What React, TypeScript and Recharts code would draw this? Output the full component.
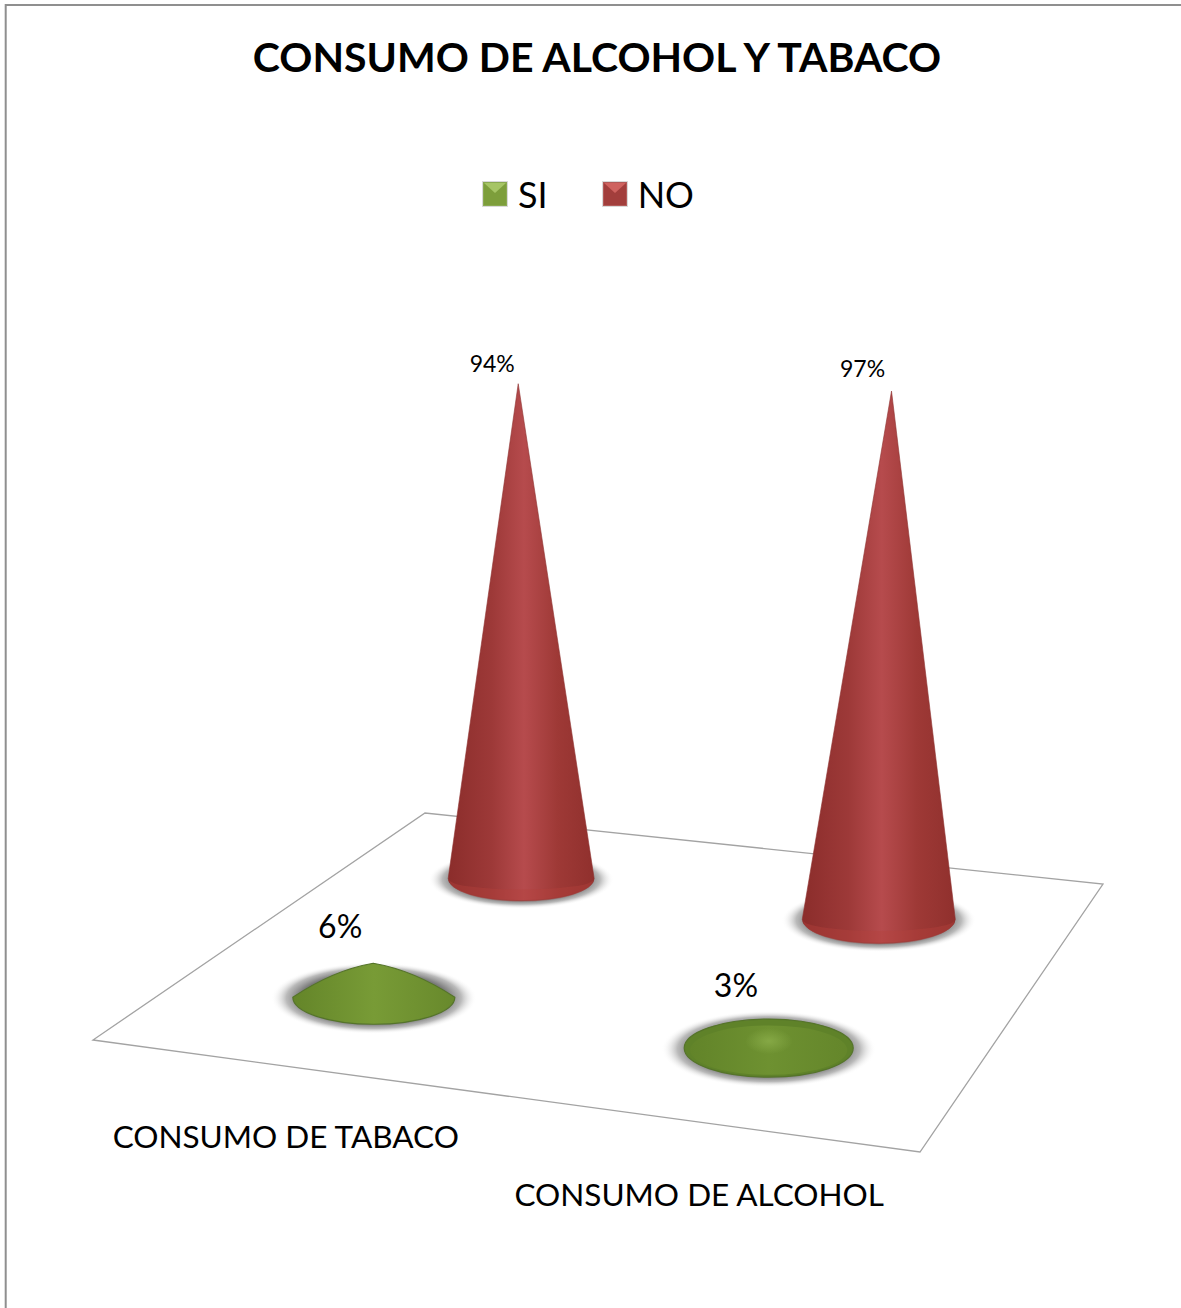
import { Bar, BarChart, LabelList, Legend, XAxis, YAxis } from "recharts";

const categorias = ["CONSUMO DE TABACO", "CONSUMO DE ALCOHOL"];
const valoresSi = [6, 3];
const valoresNo = [94, 97];
const nomesSeries = ["SI", "NO"];

const tabela = categorias.map((categoria, i) => ({
  categoria,
  si: valoresSi[i],
  no: valoresNo[i],
}));

const LARGURA = 1181;
const ALTURA = 1308;
const FONTE = "Lato, Carlito, 'Open Sans', sans-serif";
const margem = { top: 400, right: 78, bottom: 333, left: 93 };
const larguraPlot = LARGURA - margem.left - margem.right;
const LARGURA_BARRA = 162;

// cantos do piso: frente esq., frente dir., fundo dir., fundo esq.
const A = [93, 1040];
const D = [920, 1152];
const C = [1103, 884];
const B = [425, 813];

// deslocamento de cada rotulo em relacao a ponta do cone [serie][categoria]
const ajusteRotulo = [
  [[-33, -38], [-33, -47]],
  [[-26, -21], [-29, -23]],
];

// projeta (u ao longo das categorias, v na profundidade) no piso
function projetar(u: number, v: number) {
  const px = (1 - u) * (1 - v) * A[0] + u * (1 - v) * D[0] + u * v * C[0] + (1 - u) * v * B[0];
  const py = (1 - u) * (1 - v) * A[1] + u * (1 - v) * D[1] + u * v * C[1] + (1 - u) * v * B[1];
  return [px, py];
}

function geometria(x: number, largura: number, altura: number, serie: number) {
  const u = (x + largura / 2 - margem.left) / larguraPlot;
  const v = serie === 0 ? 0.25 : 0.75;
  const [px, py] = projetar(u, v);
  const cy = py - 11.5;
  const k = 1.04 + (v - 0.25) * (-0.148 + 0.132 * (u - 0.25));
  const h = altura * k;
  const rx = (largura / 2) * (1 + (7 * (u - 0.25) - 16 * (v - 0.25)) / 81);
  const ry = 27 + 4 * (u - 0.25) - 10 * (v - 0.25);
  const tipX = px + ((px - 592) * 0.042 * h) / 500;
  return { cx: px, cy, rx, ry, tipX, tipY: cy - h };
}

function Cone(props: any, serie: number) {
  const { x, width, height } = props;
  const { cx, cy, rx, ry, tipX, tipY } = geometria(x, width, height, serie);
  const pid = serie === 0 ? "si" : "no";
  const dentro = Math.hypot((tipX - cx) / rx, (tipY - cy) / ry) <= 1;
  const sombra = (
    <ellipse cx={cx} cy={cy + 1} rx={rx * 1.27} ry={ry * 1.32} fill="url(#sombra)" />
  );
  const contorno = serie === 0 ? "#55742a" : "#8f3230";

  if (dentro) {
    return (
      <g>
        {sombra}
        <ellipse cx={cx} cy={cy} rx={rx} ry={ry} fill="#5f8229" stroke={contorno} strokeWidth={1.2} />
        <ellipse cx={cx} cy={cy + 2} rx={rx * 0.93} ry={ry * 0.85} fill={`url(#corpo-${pid})`} opacity={0.6} />
        <ellipse cx={tipX} cy={tipY + 10} rx={rx * 0.28} ry={ry * 0.45} fill="url(#brilho)" />
      </g>
    );
  }

  // lados da ponta ate os extremos da base
  const lados =
    serie === 0
      ? `M${cx - rx} ${cy} Q${(cx - rx + tipX) / 2} ${(cy + tipY) / 2 - 10} ${tipX} ${tipY} Q${(cx + rx + tipX) / 2} ${(cy + tipY) / 2 - 10} ${cx + rx} ${cy}`
      : `M${cx - rx} ${cy} L${tipX} ${tipY} L${cx + rx} ${cy}`;
  const caminho = `${lados} A${rx} ${ry} 0 0 1 ${cx - rx} ${cy} Z`;

  return (
    <g>
      {sombra}
      <path d={caminho} fill={`url(#corpo-${pid})`} stroke={contorno} strokeWidth={serie === 0 ? 1.2 : 0.6} />
      {serie === 1 && (
        <path
          d={`M${cx - rx + 1} ${cy + 1} A${rx - 1} ${ry} 0 0 0 ${cx + rx - 1} ${cy + 1} A${rx - 1} ${ry * 0.45} 0 0 1 ${cx - rx + 1} ${cy + 1} Z`}
          fill="#b5403d"
          opacity={0.4}
        />
      )}
    </g>
  );
}

function Rotulo(props: any, serie: number) {
  const box = props.viewBox ?? props;
  const { x, width, height } = box;
  const { tipX, tipY } = geometria(x, width, height, serie);
  const [dx, dy] = ajusteRotulo[serie][props.index];
  return (
    <text
      x={tipX + dx}
      y={tipY + dy}
      textAnchor="middle"
      dominantBaseline="central"
      fontFamily={FONTE}
      fontSize={serie === 0 ? 32 : 23}
      fill="#000"
    >
      {props.value}%
    </text>
  );
}

function RotuloEixo({ payload }: any) {
  const u = payload.index === 0 ? 0.25 : 0.75;
  const [px, py] = projetar(u, 0);
  return (
    <text
      x={px - 14}
      y={py + 67 + u * 4}
      textAnchor="middle"
      dominantBaseline="central"
      fontFamily={FONTE}
      fontSize={31.5}
      fill="#000"
    >
      {payload.value}
    </text>
  );
}

function Amostra({ clara, media, escura }: { clara: string; media: string; escura: string }) {
  return (
    <svg width={26} height={26} style={{ display: "block" }}>
      <rect x={0.5} y={0.5} width={25} height={25} fill={escura} stroke="#d9d9d9" />
      <rect x={2} y={2} width={22} height={22} fill={media} />
      <polygon points="2,2 24,2 13,12" fill={clara} />
    </svg>
  );
}

function Legenda({ payload }: any) {
  const cores = [
    { clara: "#a6c565", media: "#7d9e3b", escura: "#8aa950" },
    { clara: "#cf625f", media: "#a23e3c", escura: "#b25a58" },
  ];
  return (
    <div style={{ display: "flex", alignItems: "center", marginLeft: 482, fontFamily: FONTE, fontSize: 36 }}>
      {(payload ?? []).map((item: any, i: number) => (
        <div key={item.value} style={{ display: "flex", alignItems: "center", marginLeft: i === 0 ? 0 : 54 }}>
          <Amostra {...cores[i]} />
          <span style={{ marginLeft: 10, color: "#000", lineHeight: "40px" }}>{item.value}</span>
        </div>
      ))}
    </div>
  );
}

export default function App() {
  return (
    <div style={{ position: "absolute", left: 0, top: 0, width: LARGURA, height: ALTURA, background: "#fff" }}>
      <BarChart
        width={LARGURA}
        height={ALTURA}
        data={tabela}
        margin={margem}
        barSize={LARGURA_BARRA}
        barGap={-LARGURA_BARRA}
      >
        <defs>
          <linearGradient id="corpo-no" x1="0" x2="1" y1="0" y2="0">
            <stop offset="0%" stopColor="#8b2d2b" />
            <stop offset="30%" stopColor="#9d3938" />
            <stop offset="52%" stopColor="#b64b4d" />
            <stop offset="75%" stopColor="#9e3936" />
            <stop offset="100%" stopColor="#90302d" />
          </linearGradient>
          <linearGradient id="corpo-si" x1="0" x2="1" y1="0" y2="0">
            <stop offset="0%" stopColor="#648529" />
            <stop offset="50%" stopColor="#789b36" />
            <stop offset="100%" stopColor="#68892c" />
          </linearGradient>
          <radialGradient id="sombra">
            <stop offset="72%" stopColor="#7a7a7a" />
            <stop offset="85%" stopColor="#aeaeae" stopOpacity={0.85} />
            <stop offset="100%" stopColor="#ffffff" stopOpacity={0} />
          </radialGradient>
          <radialGradient id="brilho">
            <stop offset="0%" stopColor="#85a845" />
            <stop offset="100%" stopColor="#85a845" stopOpacity={0} />
          </radialGradient>
        </defs>

        <path d={`M5.7 ${ALTURA} V5 H${LARGURA}`} fill="none" stroke="#8f8f8f" strokeWidth={2} />
        <text
          x={597}
          y={56}
          textAnchor="middle"
          dominantBaseline="central"
          fontFamily={FONTE}
          fontWeight={700}
          fontSize={41}
          fill="#000"
        >
          CONSUMO DE ALCOHOL Y TABACO
        </text>
        <polygon
          points={[A, D, C, B].map((p) => p.join(",")).join(" ")}
          fill="none"
          stroke="#a3a3a3"
          strokeWidth={1.3}
        />

        <XAxis
          dataKey="categoria"
          height={30}
          axisLine={false}
          tickLine={false}
          interval={0}
          tick={RotuloEixo}
        />
        <YAxis hide domain={[0, 100]} />
        <Legend
          verticalAlign="middle"
          itemSorter={null}
          content={Legenda}
          wrapperStyle={{ top: 174, left: 0, width: LARGURA }}
        />
        <Bar
          dataKey="si"
          name={nomesSeries[0]}
          fill="#7f9f3c"
          isAnimationActive={false}
          shape={(p: any) => Cone(p, 0)}
        >
          <LabelList dataKey="si" content={(p: any) => Rotulo(p, 0)} />
        </Bar>
        <Bar
          dataKey="no"
          name={nomesSeries[1]}
          fill="#a63f3d"
          isAnimationActive={false}
          shape={(p: any) => Cone(p, 1)}
        >
          <LabelList dataKey="no" content={(p: any) => Rotulo(p, 1)} />
        </Bar>
      </BarChart>
    </div>
  );
}
